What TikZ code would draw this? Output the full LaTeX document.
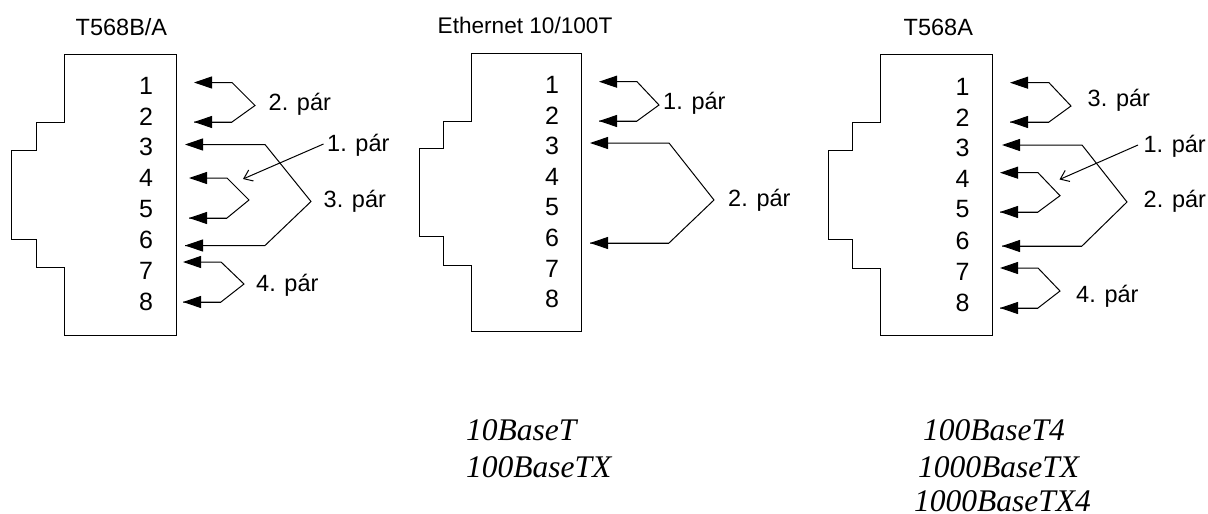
\documentclass[tikz,border=0pt]{standalone}
\usepackage{fontspec}
\setmainfont{Liberation Sans}
\newfontfamily\serifit[ItalicFont={Liberation Serif Italic}]{Liberation Serif}
\usetikzlibrary{arrows.meta}
\tikzset{
  outline/.style={draw=black,line width=1pt,line join=miter},
  wire/.style={draw=black,line width=1pt,{Triangle[length=18pt,width=12pt]}-},
  thinarrow/.style={draw=black,line width=1pt,{Straight Barb[length=8pt,width=12pt]}-},
  lab/.style={inner sep=0pt,anchor=base west,font=\fontsize{23.5}{23.5}\selectfont,text=black},
  dig/.style={inner sep=0pt,font=\fontsize{25}{25}\selectfont,text=black},
  std/.style={inner sep=0pt,anchor=base west,font=\fontsize{31.5}{31.5}\serifit\itshape,text=black},
}
\newcommand{\jack}[4]{% name, x offset, y offset, scale
  \begin{scope}[shift={(#2,#3)},xscale=#4,yscale=#4]
    \draw[outline] (64,54)--(176,54)--(176,335)--(64,335)--(64,267.5)--(36,267.5)--(36,239)--(11.5,239)--(11.5,150)--(36,150)--(36,122)--(64,122)--cycle;
    \node[dig] (#1d1) at (146,86) {1};
    \node[dig] (#1d2) at (146,117) {2};
    \node[dig] (#1d3) at (146,147) {3};
    \node[dig] (#1d4) at (146,178) {4};
    \node[dig] (#1d5) at (146,209) {5};
    \node[dig] (#1d6) at (146,240) {6};
    \node[dig] (#1d7) at (146,271) {7};
    \node[dig] (#1d8) at (146,302) {8};
  \end{scope}}
\newcommand{\pairline}[7]{% name, tip x, top y, bottom y, elbow x, apex x, apex y
  \coordinate (#1a) at (#2,#3);
  \coordinate (#1b) at (#2,#4);
  \coordinate (#1ae) at (#5,#3);
  \coordinate (#1be) at (#5,#4);
  \coordinate (#1m) at (#6,#7);
  \draw[wire] (#1a)--(#1ae)--(#1m)--(#1be)--(#1b);
  \draw[wire] (#1b)--(#1be);}
\begin{document}
\begin{tikzpicture}[x=1pt,y=-1pt]
\useasboundingbox (0,0) rectangle (1208,514);
\fill[white] (0,0) rectangle (1208,514);
% left
\jack{l}{0}{0}{1}
\node[lab] (lt) at (75.5,35) {T568B/A};
\pairline{la}{194}{82.5}{122}{232}{255}{105.5}
\pairline{lb}{185}{144.5}{245.5}{265}{311}{201.5}
\pairline{lc}{189}{178}{218}{227}{249}{200}
\pairline{ld}{183}{262}{302}{221}{244}{284}
\node[lab] (ln2) at (268.5,110.7) {2. pár};
\node[lab] (ln3) at (323.5,207.3) {3. pár};
\node[lab] (ln4) at (256,291) {4. pár};
\node[lab] (ln1) at (327,151.7) {1. pár};
\coordinate (lp) at (243,179);
\coordinate (lq) at (323.5,144);
\draw[thinarrow] (lp)--(lq);
% middle
\jack{m}{407.64}{0.24}{0.99}
\node[lab,font=\fontsize{22.6}{22.6}\selectfont] (mt) at (437.5,34) {Ethernet 10/100T};
\pairline{ma}{599}{81.7}{121}{637}{659}{105}
\pairline{mb}{590}{143}{243}{669}{714}{200}
\node[lab] (mn1) at (663,109.3) {1. pár};
\node[lab] (mn2) at (728,206) {2. pár};
% right
\jack{r}{816.5}{0.5}{1}
\node[lab] (rt) at (903.5,35) {T568A};
\pairline{ra}{1010}{82.7}{122}{1049}{1071}{106}
\pairline{rb}{1002}{145}{246}{1082}{1127}{202}
\pairline{rc}{1000}{172.7}{212}{1038}{1060}{195.7}
\pairline{rd}{1000}{268}{308}{1038}{1060}{291}
\node[lab] (rn3) at (1087.5,106.7) {3. pár};
\node[lab] (rn2) at (1143.5,207.7) {2. pár};
\node[lab] (rn4) at (1076,302.7) {4. pár};
\node[lab] (rn1) at (1143.3,152.3) {1. pár};
\coordinate (rp) at (1059.5,179.5);
\coordinate (rq) at (1138,145);
\draw[thinarrow] (rp)--(rq);
% standards
\node[std] (s1) at (466,440) {10BaseT};
\node[std] (s2) at (466,477) {100BaseTX};
\node[std] (s3) at (923,440) {100BaseT4};
\node[std] (s4) at (918,477) {1000BaseTX};
\node[std] (s5) at (914,511.5) {1000BaseTX4};
\end{tikzpicture}
\end{document}
